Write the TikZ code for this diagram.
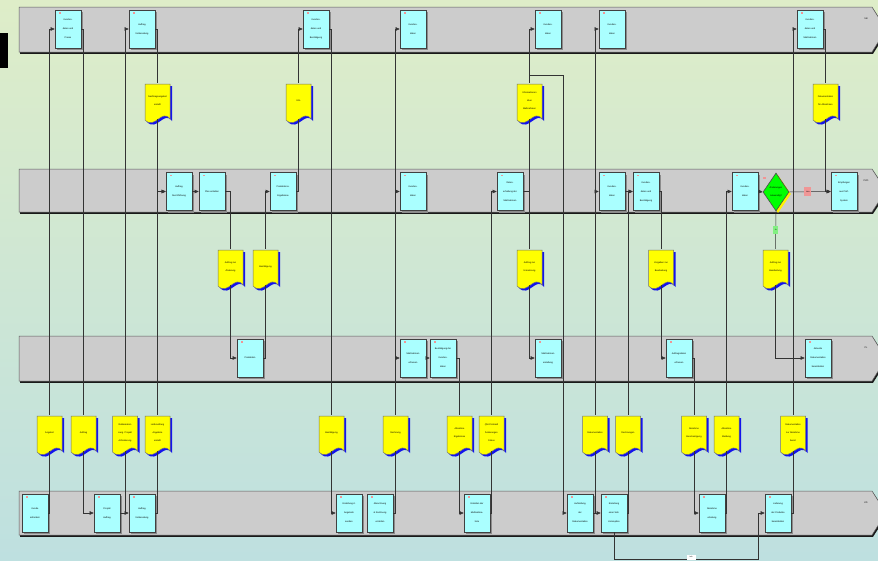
\documentclass[tikz,border=0pt]{standalone}
\usepackage{fontspec}
\setmainfont{Liberation Sans}
\usetikzlibrary{arrows.meta,shapes.geometric,shadows}
\definecolor{bgtop}{RGB}{222,237,200}
\definecolor{bgbot}{RGB}{190,224,224}
\definecolor{lanefill}{RGB}{204,204,204}
\definecolor{boxfill}{RGB}{170,255,255}
\definecolor{docyellow}{RGB}{255,255,0}
\definecolor{docblue}{RGB}{20,20,235}
\definecolor{markred}{RGB}{240,150,150}
\definecolor{okgreen}{RGB}{130,240,130}
\tikzset{
  lanestyle/.style={fill=lanefill, draw=black!65, line width=0.5pt},
  lanelbl/.style={inner sep=0pt, font=\fontsize{2.3}{3}\selectfont},
  pbox/.style={draw=black!75, line width=0.6pt, fill=boxfill, minimum width=26pt, minimum height=38pt,
    inner sep=0pt, align=center, font=\fontsize{2.3}{9}\selectfont,
    drop shadow={shadow xshift=2pt, shadow yshift=-2pt, fill=black!45, opacity=1}},
  pdocn/.style={minimum width=25pt, minimum height=36pt, inner sep=0pt, align=center, font=\fontsize{2.3}{8}\selectfont},
  pdia/.style={diamond, draw=black!70, line width=0.6pt, fill=green, minimum width=26pt, minimum height=38pt,
    inner sep=0pt, align=center, font=\fontsize{2.3}{8}\selectfont,
    drop shadow={shadow xshift=2pt, shadow yshift=-2pt, fill=yellow, opacity=1}},
  conn/.style={draw=black!80, line width=0.5pt},
  carr/.style={conn, -{Triangle[length=4pt,width=3.5pt]}},
  nlabel/.style={fill=markred, minimum width=7pt, minimum height=9pt, inner sep=0pt, font=\fontsize{1.8}{2}\selectfont},
  jlabel/.style={fill=okgreen, minimum width=5pt, minimum height=8pt, inner sep=0pt, font=\fontsize{1.8}{2}\selectfont},
  wlabel/.style={fill=white, minimum width=9pt, minimum height=5pt, inner sep=0pt, font=\fontsize{1.8}{2}\selectfont},
}
\newcommand\lanebar[4]{%
  \fill[black!90] (20,{#2+1.5}) -- (873,{#2+1.5}) -- (887.5,{(#2+#3)/2+1.5}) -- (873,{#3+1.8}) -- (20,{#3+1.8}) -- cycle;
  \filldraw[lanestyle] (19,#2) -- (872,#2) -- (886,{(#2+#3)/2}) -- (872,#3) -- (19,#3) -- cycle;
  \node[lanelbl] (#1) at (866,{#2+12}) {#4};
}
\newcommand\bx[4]{%
  \node[pbox] (#1) at (#2,#3) {#4};
  \fill[markred] ([xshift=4pt,yshift=-2.5pt]#1.north west) rectangle ++(2.5,1.5);
}
\newcommand\dc[4]{%
  \begin{scope}[shift={({#2-12.5},#3)}]
    \fill[docblue] (2,2) -- (27,2) -- (27,37) .. controls (19,26) and (12,48) .. (2,38) -- cycle;
    \filldraw[fill=docyellow, draw=black!55, line width=0.5pt] (0,0) -- (25,0) -- (25,35) .. controls (17,24) and (10,46) .. (0,36) -- cycle;
  \end{scope}
  \node[pdocn] (#1) at (#2,{#3+17}) {#4};
}
\begin{document}
\begin{tikzpicture}[x=1pt,y=-1pt]
\useasboundingbox (0,0) rectangle (878,560);
\fill[top color=bgtop, bottom color=bgbot] (0,0) rectangle (878,560);
\fill[black] (0,33) rectangle (8,68);

% lanes
\lanebar{lane1}{7}{52}{SB}
\lanebar{lane2}{169}{212}{PVO}
\lanebar{lane3}{336}{381}{PL}
\lanebar{lane4}{491}{535}{KD}

% lane 1 boxes
\bx{La}{68}{29}{Kunden-\\daten und\\Preise}
\bx{Lb}{142}{29}{Auftrag\\Vorbereitung}
\bx{Lc}{316}{29}{Kunden-\\daten und\\Bestätigung}
\bx{Ld}{413}{29}{Kunden-\\daten}
\bx{Le}{548}{29}{Kunden-\\daten}
\bx{Lf}{612}{29}{Kunden-\\daten}
\bx{Lg}{810}{29}{Kunden-\\daten und\\Maßnahmen}

% lane 2 boxes
\bx{Ma}{179}{191.5}{Auftrag\\Durchführung}
\bx{Mb}{212}{191.5}{Plan erstellen}
\bx{Mc}{283}{191.5}{Produktions-\\Ergebnisse}
\bx{Md}{413}{191.5}{Kunden-\\daten}
\bx{Me}{510}{191.5}{Daten-\\erhaltung der\\Maßnahmen}
\bx{Mf}{612}{191.5}{Kunden-\\daten}
\bx{Mg}{646}{191.5}{Kunden-\\daten und\\Bestätigung}
\bx{Mh}{745}{191.5}{Kunden-\\daten}
\node[pdia] (dia) at (776,192) {Änderungen\\notwendig?};
\fill[markred] (763,177) rectangle ++(2.5,1.5);
\bx{Mi}{844}{191.5}{Empfangen\\aus Prüf-\\System}

% lane 3 boxes
\bx{Na}{250}{358}{Produktion}
\bx{Nb}{413}{358}{Maßnahmen\\erfassen}
\bx{Nc}{443}{358}{Bestätigung der\\Kunden-\\daten}
\bx{Nd}{548}{358}{Maßnahmen\\erstellung}
\bx{Ne}{679}{358}{Auftragsdaten\\erfassen}
\bx{Nf}{818}{358}{Aktuelle\\Dokumentation\\bereitstellen}

% lane 4 boxes
\bx{Ka}{35}{513}{Kunde\\anfordern}
\bx{Kb}{107}{513}{Projekt\\Auftrag}
\bx{Kc}{142}{513}{Auftrag\\Vorbereitung}
\bx{Kd}{349}{513}{Erstellung d.\\Angebots\\senden}
\bx{Ke}{380}{513}{Abrechnung\\\& Rechnung\\erstellen}
\bx{Kf}{477}{513}{Erstellen der\\Maßnahme-\\liste}
\bx{Kg}{580}{513}{Aufstellung\\der\\Dokumentation}
\bx{Kh}{614}{513}{Erstellung\\einer Soll-\\Konzeption}
\bx{Ki}{712}{513}{Abnahme\\erteilung}
\bx{Kj}{778}{513}{Lieferung\\der Produkte\\bereitstellen}

% documents row 1
\dc{DA}{157.5}{84}{Nachtragsangebot\\erstellt}
\dc{DB}{298.5}{84}{Info}
\dc{DC}{529.5}{84}{Informationen\\über\\Maßnahmen}
\dc{DD}{825.5}{84}{Dokumentation\\für Abnahmen}
% row 2
\dc{DE}{230.5}{250}{Auftrag zur\\Änderung}
\dc{DF}{265.5}{250}{Bestätigung}
\dc{DG}{529.5}{250}{Auftrag zur\\Umsetzung}
\dc{DH}{661}{250}{Vorgaben zur\\Bearbeitung}
\dc{DI}{775.5}{250}{Auftrag zur\\Bearbeitung}
% row 3
\dc{Q1}{49.5}{416}{Angebot}
\dc{Q2}{83.5}{416}{Auftrag}
\dc{Q3}{125}{416}{Reklamation\\Lang. Projekt\\Anforderung}
\dc{Q4}{157.5}{416}{Lieferumfang\\Angebote\\erstellt}
\dc{Q5}{331.5}{416}{Bestätigung}
\dc{Q6}{395.5}{416}{Rechnung}
\dc{Q7}{459.5}{416}{Abnahme\\Ergebnisse}
\dc{Q8}{491.5}{416}{QM-Protokoll\\Änderungen\\Status}
\dc{Q9}{595}{416}{Dokumentation}
\dc{Q10}{628}{416}{Rechnungen}
\dc{Q11}{694}{416}{Abnahme\\Bescheinigung}
\dc{Q12}{726.5}{416}{Abnahme\\Meldung}
\dc{Q13}{793}{416}{Dokumentation\\zur Abnahme\\bereit}

% connectors
\draw[conn] (Ka.east) -| (Q1.south);
\draw[carr] (Q1.north) |- (La.west);
\draw[conn] (La.east) -| (Q2.north);
\draw[carr] (Q2.south) |- (Kb.west);
\draw[conn] (Kb.east) -| (Q3.south);
\draw[carr] (Q3.north) |- (Lb.west);
\draw[carr] (Kb.east) -- (Kc.west);
\draw[conn] (Lb.east) -| (DA.north);
\draw[carr] (DA.south) |- (Ma.west);
\draw[conn] (Kc.east) -| (Q4.south);
\draw[carr] (Q4.north) |- (Ma.west);
\draw[carr] (Ma.east) -- (Mb.west);
\draw[conn] (Mb.east) -| (DE.north);
\draw[carr] (DE.south) |- (Na.west);
\draw[conn] (Na.east) -| (DF.south);
\draw[carr] (DF.north) |- (Mc.west);
\draw[conn] (Mc.east) -| (DB.south);
\draw[carr] (DB.north) |- (Lc.west);
\draw[conn] (Lc.east) -| (Q5.north);
\draw[carr] (Q5.south) |- (Kd.west);
\draw[conn] (Ke.east) -| (Q6.south);
\draw[carr] (Q6.north) |- (Nb.west);
\draw[carr] (Q6.north) |- (Md.west);
\draw[carr] (Q6.north) |- (Ld.west);
\draw[carr] (Nb.east) -- (Nc.west);
\draw[conn] (Nc.east) -| (Q7.north);
\draw[carr] (Q7.south) |- (Kf.west);
\draw[conn] (Kf.east) -| (Q8.south);
\draw[carr] (Q8.north) |- (Me.west);
\draw[conn] (Me.east) -| (DC.south);
\draw[conn] (Me.east) -| (DG.north);
\draw[carr] (DG.south) |- (Nd.west);
\draw[carr] (DC.north) |- (Le.west);
\coordinate (k1) at (563,75);
\draw[carr] (DC.north) |- (k1) |- (Kg.west);
\draw[conn] (Kg.east) -| (Q9.south);
\draw[carr] (Kg.east) -- (Kh.west);
\draw[carr] (Q9.north) |- (Mf.west);
\draw[carr] (Q9.north) |- (Lf.west);
\draw[conn] (Kh.east) -| (Q10.south);
\draw[carr] (Q10.north) |- (Mg.west);
\draw[carr] (Mf.east) -- (Mg.west);
\draw[conn] (Mg.east) -| (DH.north);
\draw[carr] (DH.south) |- (Ne.west);
\draw[conn] (Ne.east) -| (Q11.north);
\draw[carr] (Q11.south) |- (Ki.west);
\draw[conn] (Ki.east) -| (Q12.south);
\draw[carr] (Q12.north) |- (Mh.west);
\draw[carr] (Mh.east) -- (dia.west);
\draw[conn] (dia.south) -- (DI.north) node[jlabel, pos=0.5] (ja) {Ja};
\draw[carr] (DI.south) |- (Nf.west);
\draw[carr] (dia.east) -- (Mi.west) node[nlabel, pos=0.45] (nein) {Nein};
\draw[conn] (Kj.east) -| (Q13.south);
\draw[carr] (Q13.north) |- (Lg.west);
\draw[conn] (Lg.east) -| (DD.north);
\draw[carr] (DD.south) |- (Mi.west);
\coordinate (lp1) at (614,559);
\coordinate (lp2) at (758,559);
\draw[carr] (Kh.south) -- (lp1) -- (lp2) |- (Kj.west);
\node[wlabel] (info) at (691,557) {Info};
\end{tikzpicture}
\end{document}
